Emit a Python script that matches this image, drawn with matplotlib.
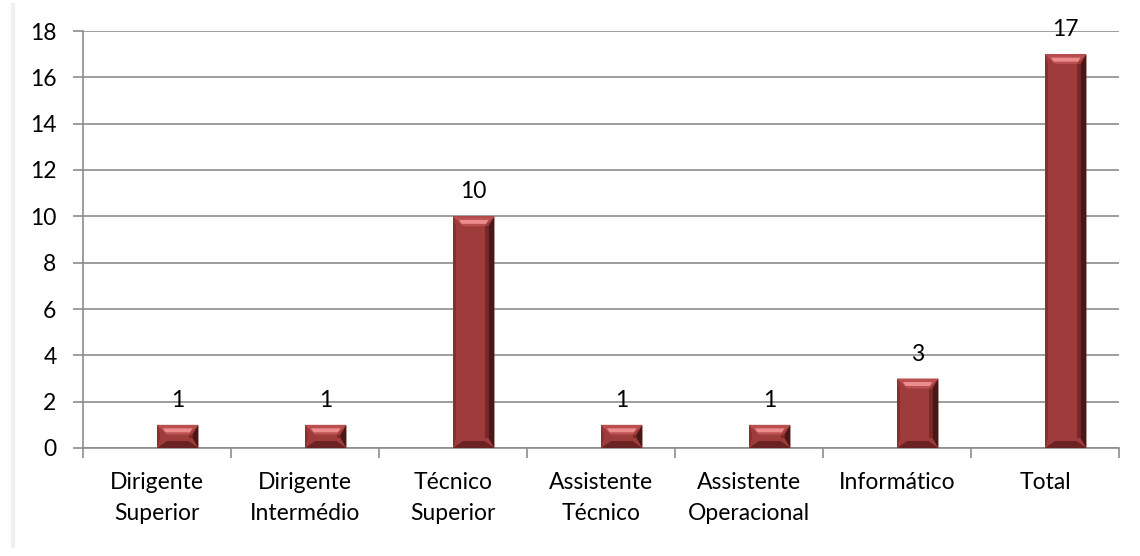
import numpy as np
import matplotlib
matplotlib.use("Agg")
import matplotlib.pyplot as plt
from matplotlib.patches import Polygon

plt.rcParams['font.family'] = ['Lato', 'DejaVu Sans']

categories = ["Dirigente\nSuperior", "Dirigente\nIntermédio", "Técnico\nSuperior",
              "Assistente\nTécnico", "Assistente\nOperacional", "Informático", "Total"]
values = [1, 1, 10, 1, 1, 3, 17]

fig = plt.figure(figsize=(11.4, 5.56), dpi=100)
ax = fig.add_axes([83 / 1140, 1 - 448 / 556, 1036 / 1140, 417 / 556])

# faint page edge on the left
fig.add_artist(plt.Line2D([13 / 1140, 13 / 1140], [10 / 556, 1 - 5 / 556],
                          transform=fig.transFigure, color="#f0f0f0", lw=3))

x = np.arange(len(categories))
offset = 0.14
width = 0.28
bars = ax.bar(x + offset, values, width=width, color="#9e3b3b", edgecolor="none", zorder=3)

ax.set_xlim(-0.5, len(categories) - 0.5)
ax.set_ylim(0, 18)
ax.set_yticks(range(0, 19, 2))

# bevel pieces sized in pixels
px_x = (len(categories)) / 1036
px_y = 18 / 417
for b in bars:
    x0, y0 = b.get_x(), b.get_y()
    w, h = b.get_width(), b.get_height()
    x1, y1 = x0 + w, y0 + h
    bx = 10 * px_x
    by = min(10 * px_y, h / 2.2)
    # right edge shade
    ax.add_patch(Polygon([(x1 - 6 * px_x, y0 + by), (x1, y0), (x1, y1), (x1 - 6 * px_x, y1 - by)],
                         closed=True, color="#4a1616", zorder=4, lw=0))
    ax.add_patch(Polygon([(x1 - 9 * px_x, y0 + by), (x1 - 6 * px_x, y0 + by),
                          (x1 - 6 * px_x, y1 - by), (x1 - 9 * px_x, y1 - by)],
                         closed=True, color="#7a2828", zorder=4, lw=0))
    # left edge
    ax.add_patch(Polygon([(x0, y0), (x0 + 3 * px_x, y0 + by), (x0 + 3 * px_x, y1 - by), (x0, y1)],
                         closed=True, color="#843030", zorder=4, lw=0))
    # top bevel
    ax.add_patch(Polygon([(x0, y1), (x1, y1), (x1 - bx, y1 - by), (x0 + bx, y1 - by)],
                         closed=True, color="#b94f4f", zorder=5, lw=0))
    ax.add_patch(Polygon([(x0 + bx * 0.6, y1 - by * 0.35), (x1 - bx * 0.6, y1 - by * 0.35),
                          (x1 - bx * 0.85, y1 - by * 0.75), (x0 + bx * 0.85, y1 - by * 0.75)],
                         closed=True, color="#ec8c8c", zorder=6, lw=0))
    # bottom bevel
    ax.add_patch(Polygon([(x0, y0), (x1, y0), (x1 - bx, y0 + by * 0.7), (x0 + bx, y0 + by * 0.7)],
                         closed=True, color="#6a2222", zorder=5, lw=0))
    ax.text(x0 + w / 2, y1 + 0.6, str(int(h)), ha="center", va="bottom", fontsize=16.5, color="#000000")

ax.set_xticks(x)
ax.set_xticklabels(categories, fontsize=16.5, linespacing=1.6)
ax.set_xticks(np.arange(-0.5, len(categories), 1), minor=True)
ax.tick_params(axis="x", which="major", length=0, pad=17)
ax.tick_params(axis="x", which="minor", length=7, color="#8c8c8c", width=1.2)
ax.tick_params(axis="y", length=7, color="#8c8c8c", width=1.2, labelsize=16.5, pad=12)

ax.grid(axis="y", color="#8c8c8c", linewidth=1.2, zorder=0)
for side in ["top", "right"]:
    ax.spines[side].set_visible(False)
for side in ["left", "bottom"]:
    ax.spines[side].set_color("#8c8c8c")
    ax.spines[side].set_linewidth(1.2)

fig.savefig("out.png", dpi=100)
